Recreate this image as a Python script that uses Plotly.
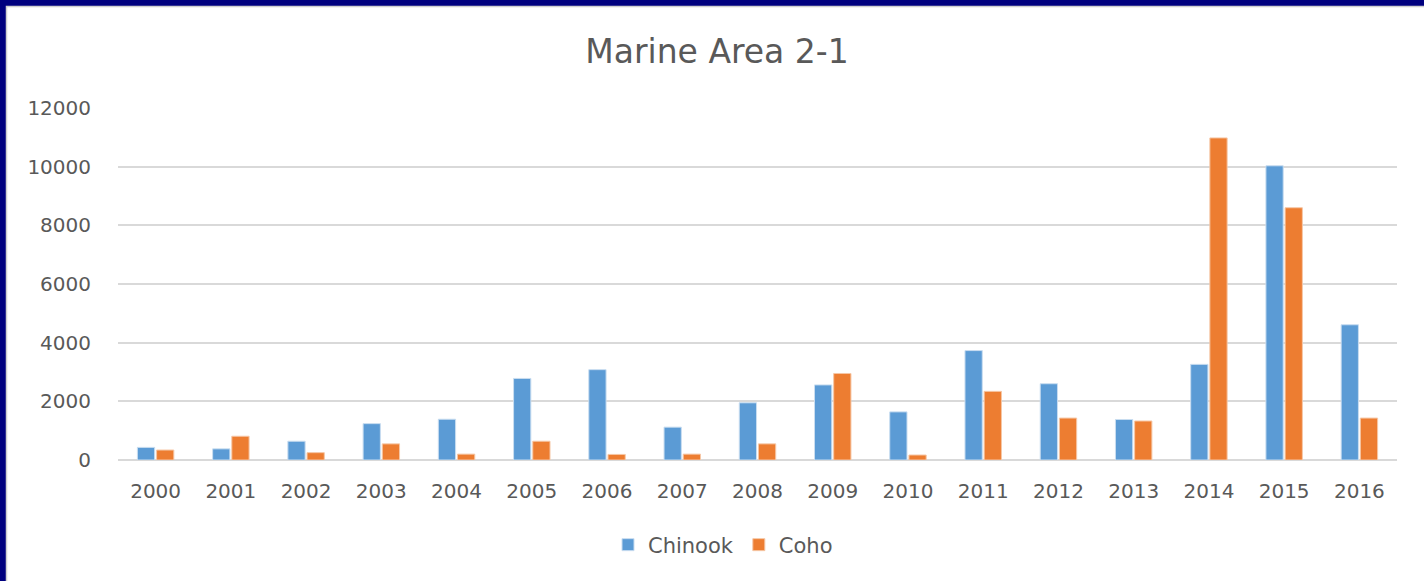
import plotly.graph_objects as go

years = [str(y) for y in range(2000, 2017)]
chinook = [430, 380, 640, 1240, 1390, 2780, 3080, 1120, 1950, 2560, 1640, 3730, 2600, 1380, 3260, 10030, 4610]
coho = [340, 810, 250, 550, 200, 640, 190, 200, 550, 2950, 170, 2340, 1430, 1330, 10980, 8600, 1430]
tick_vals = [0, 2000, 4000, 6000, 8000, 10000, 12000]
tick_text = ["0", "2000", "4000", "6000", "8000", "10000", "12000"]

W, H = 1424, 581
L, R, T, B = 118, 27, 108, 121
pw, ph = W - L - R, H - T - B

def px(x):
    return (x - L) / pw

def py(y):
    return (H - B - y) / ph

grey = "#595959"
font = "DejaVu Sans"

fig = go.Figure()
fig.add_trace(go.Bar(name="Chinook", x=years, y=chinook,
                     marker=dict(color="#5B9BD5", line=dict(color="#C9DDF0", width=1))))
fig.add_trace(go.Bar(name="Coho", x=years, y=coho,
                     marker=dict(color="#ED7D31", line=dict(color="#F6C7A6", width=1))))

fig.update_layout(
    width=W, height=H,
    margin=dict(l=L, r=R, t=T, b=B, autoexpand=False),
    paper_bgcolor="#00007F",
    plot_bgcolor="white",
    barmode="group",
    bargap=0.49,
    bargroupgap=0.1,
    title=dict(text="Marine Area 2-1", x=717 / W, xref="container", xanchor="center",
               y=1 - 51 / H, yref="container", yanchor="middle",
               font=dict(family=font, size=33, color=grey)),
    font=dict(family=font, size=20, color=grey),
    legend=dict(orientation="h", x=px(723), xanchor="center", y=py(545), yanchor="middle",
                font=dict(family=font, size=21, color=grey), bgcolor="rgba(0,0,0,0)",
                traceorder="normal"),
    xaxis=dict(showgrid=False, showline=False, ticks="", ticklabelstandoff=17,
               tickfont=dict(family=font, size=20, color=grey)),
    yaxis=dict(range=[0, 12000], tickvals=tick_vals, ticktext=tick_text,
               showgrid=True, gridcolor="#D9D9D9",
               gridwidth=2, zeroline=True, zerolinecolor="#D9D9D9", zerolinewidth=2,
               showline=False, ticks="", ticklabelstandoff=26,
               tickfont=dict(family=font, size=20, color=grey)),
    shapes=[dict(type="rect", xref="paper", yref="paper",
                 x0=px(6.5), x1=px(W + 20), y0=py(6.5), y1=py(H + 20),
                 fillcolor="white", line=dict(color="#D0D0D0", width=1.5), layer="below")],
)

fig.write_html("out.html", config={"displayModeBar": False},
               post_script="document.body.style.margin='0';document.body.style.padding='0';")
